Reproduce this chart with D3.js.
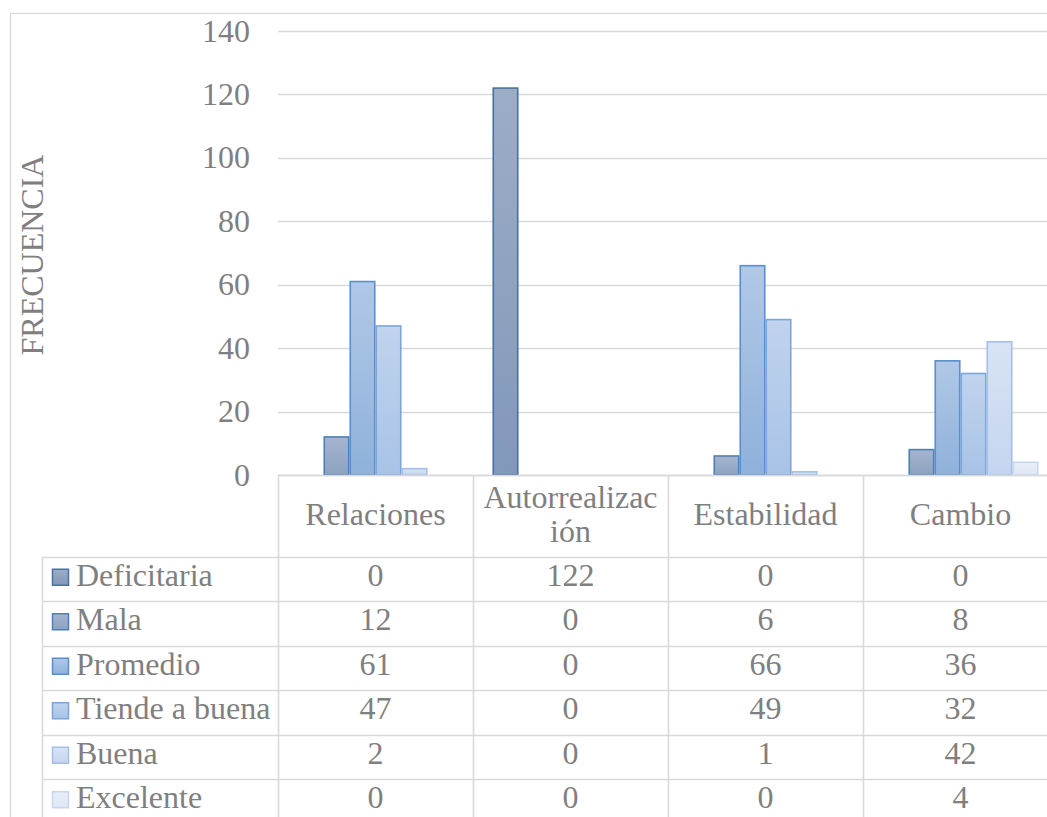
<!DOCTYPE html>
<html><head><meta charset="utf-8">
<script src="https://cdn.jsdelivr.net/npm/d3@7/dist/d3.min.js"></script>
</head><body style="margin:0">
<script>
const categories = ["Relaciones", "Autorrealización", "Estabilidad", "Cambio"];
const categoryLines = [["Relaciones"], ["Autorrealizac", "ión"], ["Estabilidad"], ["Cambio"]];
const seriesNames = ["Deficitaria", "Mala", "Promedio", "Tiende a buena", "Buena", "Excelente"];
const deficitaria = [0, 122, 0, 0];
const mala = [12, 0, 6, 8];
const promedio = [61, 0, 66, 36];
const tiendeABuena = [47, 0, 49, 32];
const buena = [2, 0, 1, 42];
const excelente = [0, 0, 0, 4];
const yTicks = [0, 20, 40, 60, 80, 100, 120, 140];
const yTitle = "FRECUENCIA";

const seriesValues = [deficitaria, mala, promedio, tiendeABuena, buena, excelente];
const fillTop = ["#9cadc6", "#a5b5cd", "#b1c8e7", "#c1d3ed", "#d8e4f4", "#e8eef8"];
const fillBot = ["#8298ba", "#8ca2c1", "#8fb1da", "#a8c3e7", "#c4d5ef", "#dfe7f5"];
const strokes = ["#4a71a2", "#4f7fba", "#5a8fcd", "#7ca5da", "#a5c0e6", "#c7d7ef"];

const W = 1047, H = 817;
const FONT = '"' + ["Liberation", "Serif"].join(" ") + '"';
const textColor = "#7f7f7f";
const gridColor = "#d9d9d9";
const fs = "32px";

const svg = d3.select("body").append("svg").attr("width", W).attr("height", H).style("display", "block");
const defs = svg.append("defs");
seriesNames.forEach((s, i) => {
  const g = defs.append("linearGradient").attr("id", "g" + i)
    .attr("x1", 0).attr("y1", 0).attr("x2", 0).attr("y2", 1);
  g.append("stop").attr("offset", "0%").attr("stop-color", fillTop[i]);
  g.append("stop").attr("offset", "100%").attr("stop-color", fillBot[i]);
});
function txt(sel) {
  return sel.style("font-family", FONT).style("font-size", fs).style("fill", textColor);
}

// outer frame
svg.append("rect").attr("x", 10.5).attr("y", 13.5).attr("width", 1200).attr("height", 1000)
  .attr("fill", "none").attr("stroke", gridColor).attr("stroke-width", 1.3);

const x0 = 278, bandW = 195;
const x = d3.scaleBand().domain(categories).range([x0, x0 + bandW * categories.length]).paddingInner(0).paddingOuter(0);
const xs = d3.scaleBand().domain(seriesNames).range([0, x.bandwidth()]).paddingOuter(0.75).paddingInner(0);
const y = d3.scaleLinear().domain([0, 140]).range([475, 31]);

// gridlines
svg.append("g").selectAll("line").data(yTicks).join("line")
  .attr("x1", x0).attr("x2", x0 + bandW * 4)
  .attr("y1", d => Math.round(y(d)) + 0.5).attr("y2", d => Math.round(y(d)) + 0.5)
  .attr("stroke", gridColor).attr("stroke-width", 1.6);

// y tick labels
txt(svg.append("g").selectAll("text").data(yTicks).join("text")
  .attr("x", 250).attr("y", d => y(d)).attr("dy", "0.33em")
  .attr("text-anchor", "end")).text(d => d);

// y title
txt(svg.append("text").attr("transform", "translate(43,255) rotate(-90)")
  .attr("text-anchor", "middle")).text(yTitle);

// bars
const gBars = svg.append("g");
seriesNames.forEach((s, i) => {
  gBars.append("g").selectAll("rect").data(categories.map((c, j) => ({c, v: seriesValues[i][j]})).filter(d => d.v > 0))
    .join("rect")
    .attr("x", d => x(d.c) + xs(s) + 0.75)
    .attr("y", d => y(d.v))
    .attr("width", xs.bandwidth() - 1.5)
    .attr("height", d => y(0) - y(d.v))
    .attr("fill", "url(#g" + i + ")")
    .attr("stroke", strokes[i]).attr("stroke-width", 1.6);
});

// axis line on top
svg.append("line").attr("x1", x0).attr("x2", x0 + bandW * 4).attr("y1", 475.5).attr("y2", 475.5)
  .attr("stroke", gridColor).attr("stroke-width", 1.6);

// data table
const headerTop = 475, headerBot = 556.5, rowH = 44.5, legendLeft = 42;
const rowY = d3.scaleBand().domain(seriesNames).range([headerBot, headerBot + rowH * seriesNames.length]);
const tg = svg.append("g");
const vlines = d3.range(categories.length + 1).map(k => x0 + bandW * k);
tg.selectAll("line.v").data(vlines).join("line").attr("class", "v")
  .attr("x1", d => d + 0.5).attr("x2", d => d + 0.5).attr("y1", headerTop).attr("y2", H + 10)
  .attr("stroke", gridColor).attr("stroke-width", 1.6);
tg.append("line").attr("x1", legendLeft + 0.5).attr("x2", legendLeft + 0.5).attr("y1", headerBot).attr("y2", H + 10)
  .attr("stroke", gridColor).attr("stroke-width", 1.6);
const hlines = seriesNames.map(s => rowY(s)).concat([headerBot + rowH * seriesNames.length]);
tg.selectAll("line.h").data(hlines).join("line").attr("class", "h")
  .attr("x1", legendLeft).attr("x2", x0 + bandW * 4).attr("y1", d => Math.round(d) + 0.5).attr("y2", d => Math.round(d) + 0.5)
  .attr("stroke", gridColor).attr("stroke-width", 1.6);

// header labels
categories.forEach((c, j) => {
  const lines = categoryLines[j];
  const lh = 34;
  const cy = (headerTop + headerBot) / 2;
  lines.forEach((t, k) => {
    txt(tg.append("text").attr("x", x(c) + bandW / 2)
      .attr("y", cy + (k - (lines.length - 1) / 2) * lh).attr("dy", "0.29em")
      .attr("text-anchor", "middle")).text(t);
  });
});

// rows
seriesNames.forEach((s, i) => {
  const cy = rowY(s) + rowH / 2;
  tg.append("rect").attr("x", 52.5).attr("y", cy - 9.5).attr("width", 16).attr("height", 16)
    .attr("fill", "url(#g" + i + ")").attr("stroke", strokes[i]).attr("stroke-width", 1.5);
  txt(tg.append("text").attr("x", 76).attr("y", cy).attr("dy", "0.22em")).text(s);
  categories.forEach((c, j) => {
    txt(tg.append("text").attr("x", x(c) + bandW / 2).attr("y", cy).attr("dy", "0.22em")
      .attr("text-anchor", "middle")).text(seriesValues[i][j]);
  });
});
</script>
</body></html>
